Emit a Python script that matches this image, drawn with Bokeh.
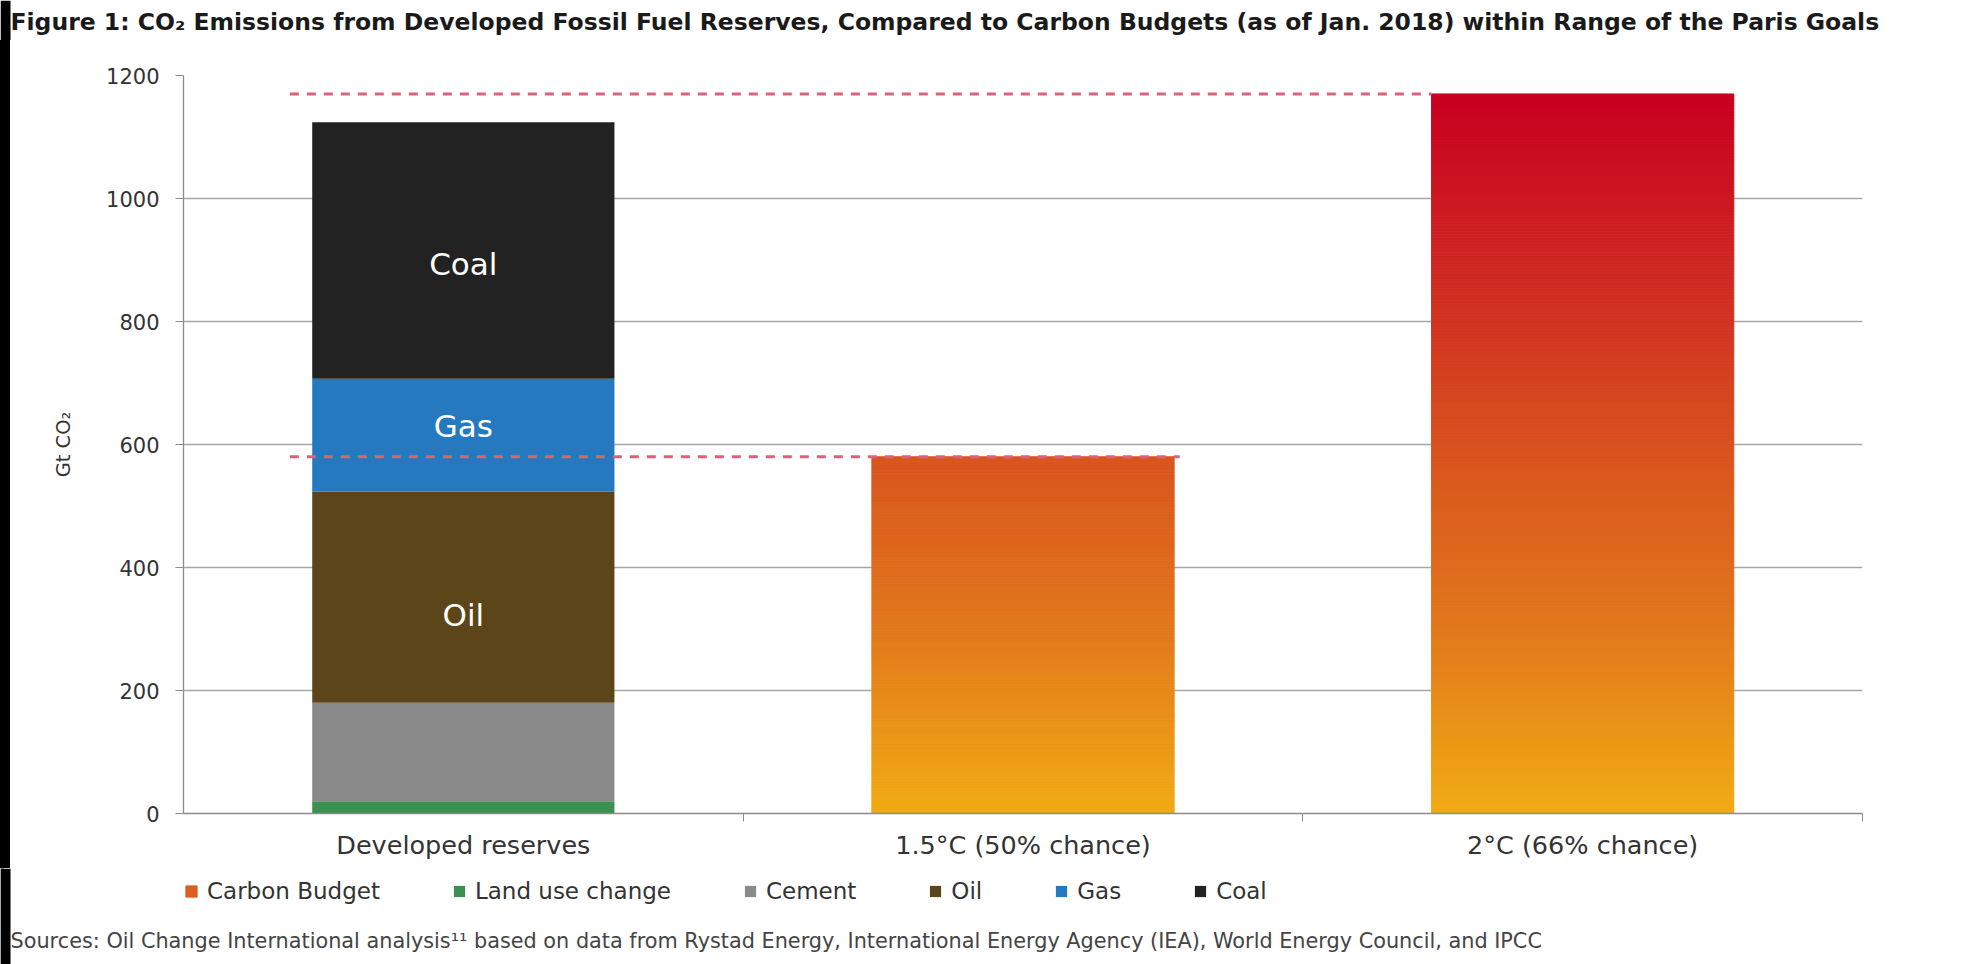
from bokeh.plotting import figure
from bokeh.models import (Range1d, FixedTicker, Legend, LegendItem,
                          ColumnDataSource, Spacer)
from bokeh.layouts import row
from bokeh.embed import file_html
from bokeh.resources import INLINE
from bokeh.core.properties import value

# ---------------- data ----------------
categories = ["Developed reserves", "1.5°C (50% chance)", "2°C (66% chance)"]
reserve_sources = ["Land use change", "Cement", "Oil", "Gas", "Coal"]
reserve_values = [20, 160, 343, 184, 417]
reserve_colors = ["#3a9152", "#8a8a8a", "#5b4519", "#2479bf", "#222222"]
budget_labels = ["1.5°C (50% chance)", "2°C (66% chance)"]
budget_values = [580, 1170]
y_ticks = [0, 200, 400, 600, 800, 1000, 1200]
inner_labels = ["Oil", "Gas", "Coal"]
inner_label_y = [322, 630, 893]
title_text = ("Figure 1: CO₂ Emissions from Developed Fossil Fuel Reserves, Compared to "
              "Carbon Budgets (as of Jan. 2018) within Range of the Paris Goals")
source_text = ("Sources: Oil Change International analysis¹¹ based on data from Rystad Energy, "
               "International Energy Agency (IEA), World Energy Council, and IPCC")

# gradient stops (value, colour) for the carbon-budget bars
grad_stops = [(0, (241, 171, 20)), (290, (226, 122, 28)), (580, (217, 84, 30)),
              (870, (207, 42, 34)), (1170, (200, 0, 32))]

FONT = "DejaVu Sans"
TXT = "#333333"
BAR_W = 0.54
PAGE_W, PAGE_H = 1982, 964
STRIP = 10
H_TOP = 40
H_LEG = 96
H_MAIN = PAGE_H - H_TOP - H_LEG


def grad(v):
    for (v0, c0), (v1, c1) in zip(grad_stops[:-1], grad_stops[1:]):
        if v <= v1:
            f = (v - v0) / (v1 - v0)
            return "#%02x%02x%02x" % tuple(int(round(a + (b - a) * f)) for a, b in zip(c0, c1))
    return "#%02x%02x%02x" % grad_stops[-1][1]


def strip_figure(y0, y1):
    """A full-width figure whose data coordinates equal page pixels."""
    f = figure(width=PAGE_W, height=y1 - y0, x_range=Range1d(0, PAGE_W),
               y_range=Range1d(y1, y0), output_backend="svg", toolbar_location=None,
               x_axis_location=None, y_axis_location=None,
               min_border_left=0, min_border_right=0, min_border_top=0, min_border_bottom=0)
    f.outline_line_color = None
    f.grid.visible = False
    f.background_fill_color = "white"
    f.border_fill_color = "white"
    return f


# ---------------- main chart ----------------
p = figure(width=PAGE_W - STRIP, height=H_MAIN, frame_width=1679, frame_height=738,
           x_range=Range1d(0, 3), y_range=Range1d(0, 1200),
           output_backend="svg", toolbar_location=None,
           min_border_left=173, min_border_right=120,
           min_border_top=75 - H_TOP, min_border_bottom=H_MAIN - (75 - H_TOP) - 738)
p.outline_line_color = None
p.background_fill_color = "white"
p.border_fill_color = "white"

p.xgrid.visible = False
p.ygrid.ticker = FixedTicker(ticks=y_ticks)
p.ygrid.grid_line_color = "#a6a6a6"
p.ygrid.grid_line_width = 1.3

cat_x = [i + 0.5 for i in range(len(categories))]
xa = p.xaxis[0]
xa.ticker = FixedTicker(ticks=cat_x, minor_ticks=[1, 2, 3])
xa.major_label_overrides = {x: c for x, c in zip(cat_x, categories)}
xa.major_tick_out = 0
xa.major_tick_in = 0
xa.minor_tick_out = 8
xa.minor_tick_in = 0
xa.minor_tick_line_color = "#8c8c8c"
xa.axis_line_color = "#8c8c8c"
xa.axis_line_width = 1.3
xa.major_label_standoff = 8
xa.major_label_text_font = FONT
xa.major_label_text_font_size = "25.5px"
xa.major_label_text_color = TXT

ya = p.yaxis[0]
ya.ticker = FixedTicker(ticks=y_ticks)
ya.major_tick_out = 8
ya.major_tick_in = 0
ya.major_tick_line_color = "#8c8c8c"
ya.minor_tick_line_color = None
ya.axis_line_color = "#8c8c8c"
ya.axis_line_width = 1.3
ya.major_label_standoff = 16
ya.major_label_text_font = FONT
ya.major_label_text_font_size = "21px"
ya.major_label_text_color = TXT
ya.axis_label = "Gt CO₂"
ya.axis_label_text_font = FONT
ya.axis_label_text_font_size = "19.5px"
ya.axis_label_text_font_style = "normal"
ya.axis_label_text_color = TXT
ya.axis_label_standoff = 28

# stacked developed-reserves bar
bottoms, tops, acc = [], [], 0
for v in reserve_values:
    bottoms.append(acc)
    acc += v
    tops.append(acc)
src_res = ColumnDataSource(dict(x=[cat_x[0]] * len(reserve_values), bottom=bottoms,
                                top=tops, color=reserve_colors, name=reserve_sources))
p.vbar(x="x", width=BAR_W, bottom="bottom", top="top", fill_color="color",
       line_color=None, source=src_res)

# gradient carbon-budget bars
N = 240
gl, gr, gb, gt, gc = [], [], [], [], []
legend_index = 0
for lab, val in zip(budget_labels, budget_values):
    xc = cat_x[categories.index(lab)]
    for k in range(N):
        b = val * k / N
        t = val * (k + 1) / N
        gl.append(xc - BAR_W / 2)
        gr.append(xc + BAR_W / 2)
        gb.append(b)
        gt.append(t)
        gc.append(grad((b + t) / 2))
        if lab == budget_labels[0] and k == int(N * 0.85):
            legend_index = len(gc) - 1
src_g = ColumnDataSource(dict(left=gl, right=gr, bottom=gb, top=gt, color=gc))
p.quad(left="left", right="right", bottom="bottom", top="top",
       fill_color="color", line_color="color", line_width=1, source=src_g)

# dashed budget reference lines
dash_x0 = 0.19
dash_x1 = [cat_x[1] + BAR_W / 2 + 0.01, cat_x[2] - BAR_W / 2]
p.segment(x0=[dash_x0] * 2, x1=dash_x1, y0=budget_values, y1=budget_values,
          line_color="#d8647c", line_width=3, line_dash="9 8")

# labels inside the stacked bar
p.text(x=[cat_x[0]] * len(inner_labels), y=inner_label_y, text=inner_labels,
       text_color="white", text_font=value(FONT), text_font_size="31px",
       text_align="center", text_baseline="middle")

main = row(Spacer(width=STRIP, height=H_MAIN, styles={"background-color": "black"}), p)

# ---------------- title strip ----------------
pt = strip_figure(0, H_TOP)
pt.quad(left=[0], right=[STRIP], bottom=[0], top=[H_TOP], fill_color="black",
        line_color=None)
pt.text(x=[STRIP], y=[21], text=[title_text], text_font=value(FONT),
        text_font_style="bold", text_font_size="23.5px", text_color="#1a1a1a",
        text_baseline="middle", text_align="left")

# ---------------- legend + sources strip ----------------
pb = strip_figure(PAGE_H - H_LEG, PAGE_H)
# the same series renderers, used only for legend swatches (data lie under the black edge)
r_res2 = pb.vbar(x="x", width=BAR_W, bottom="bottom", top="top", fill_color="color",
                 line_color=None, source=src_res)
r_grad2 = pb.quad(left="left", right="right", bottom="bottom", top="top",
                  fill_color="color", line_color="color", source=src_g)
pb.quad(left=[0], right=[STRIP], bottom=[PAGE_H - H_LEG], top=[PAGE_H],
        fill_color="black", line_color=None)

items = [LegendItem(label="Carbon Budget", renderers=[r_grad2], index=legend_index)]
for i, name in enumerate(reserve_sources):
    items.append(LegendItem(label=name, renderers=[r_res2], index=i))
legend = Legend(items=items, orientation="horizontal", location=(184, 60),
                margin=0, padding=0, spacing=72, label_standoff=9,
                glyph_width=14, glyph_height=14, label_text_font=FONT,
                label_text_font_size="23px", label_text_color=TXT,
                border_line_alpha=0, background_fill_alpha=0)
pb.add_layout(legend)

pb.text(x=[STRIP], y=[940], text=[source_text], text_font=value(FONT),
        text_font_size="20.8px", text_color="#444444", text_baseline="middle",
        text_align="left")

open("out.html", "w").write(file_html([pt, main, pb], INLINE))
